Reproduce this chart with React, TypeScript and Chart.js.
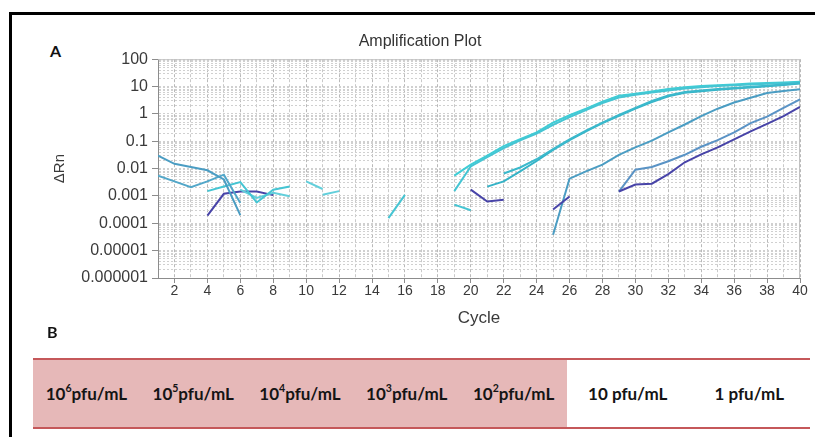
import React, { useEffect, useRef } from "react";
import { Chart, registerables } from "chart.js";

Chart.register(...registerables);

// Cycle range of the run
const firstCycle = 1;
const lastCycle = 40;

// ΔRn axis decades and their printed labels
const yDecades = [100, 10, 1, 0.1, 0.01, 0.001, 0.0001, 0.00001, 0.000001];
const yDecadeLabels = ["100", "10", "1", "0.1", "0.01", "0.001", "0.0001", "0.00001", "0.000001"];

// Amplification curves: first cycle, then ΔRn at each following cycle
const curve19aStart = 19;
const curve19a = [0.0055, 0.014, 0.03, 0.066, 0.12, 0.21, 0.48, 0.89, 1.55, 2.8, 4.6, 5.5, 6.6, 8.1, 9.5, 10.5, 11.2, 12.0, 12.9, 13.5, 14.1, 15.1];

const curve19bStart = 19;
const curve19b = [0.0015, 0.012, 0.026, 0.056, 0.107, 0.19, 0.4, 0.76, 1.38, 2.5, 4.0, 5.0, 6.0, 7.2, 8.5, 9.5, 10.5, 11.2, 12.0, 12.6, 13.2, 14.1];

const curve21Start = 21;
const curve21 = [0.0022, 0.0034, 0.0079, 0.019, 0.048, 0.11, 0.23, 0.46, 0.85, 1.55, 2.7, 4.4, 5.9, 6.8, 7.7, 8.5, 9.3, 10.2, 11.4, 13.0];

const curve22Start = 22;
const curve22 = [0.0066, 0.011, 0.022, 0.052, 0.117, 0.245, 0.48, 0.91, 1.66, 2.95, 4.7, 6.3, 7.2, 8.1, 8.9, 9.8, 10.7, 12.0, 13.5];

const curve25Start = 25;
const curve25 = [0.000038, 0.0043, 0.0079, 0.014, 0.032, 0.06, 0.105, 0.21, 0.41, 0.83, 1.55, 2.6, 3.9, 5.8, 6.9, 7.9];

const curve29aStart = 29;
const curve29a = [0.00145, 0.0091, 0.0115, 0.0186, 0.032, 0.063, 0.11, 0.21, 0.46, 0.79, 1.66, 3.4];

const curve29bStart = 29;
const curve29b = [0.00145, 0.0026, 0.0028, 0.0063, 0.017, 0.033, 0.06, 0.117, 0.23, 0.43, 0.83, 1.8];

// Baseline noise pieces (below threshold)
const noiseIndigo4Start = 4;
const noiseIndigo4 = [0.00019, 0.0012, 0.00145, 0.00145, 0.00107];
const noiseIndigo20Start = 20;
const noiseIndigo20 = [0.0017, 0.00063, 0.00072];
const noiseIndigo25Start = 25;
const noiseIndigo25 = [0.00032, 0.00095];
const noiseSteel1aStart = 1;
const noiseSteel1a = [0.03, 0.015, 0.0115, 0.0087, 0.004, 0.0002];
const noiseSteel1bStart = 1;
const noiseSteel1b = [0.0055, 0.0034, 0.0021, 0.0034, 0.006, 0.00055];
const noiseCyan4Start = 4;
const noiseCyan4 = [0.0015, 0.0022, 0.0032, 0.00058, 0.0017, 0.0022];
const noiseCyan6Start = 6;
const noiseCyan6 = [0.0017, 0.00085, 0.0013, 0.00098];
const noiseCyan10Start = 10;
const noiseCyan10 = [0.0034, 0.0018];
const noiseCyan11Start = 11;
const noiseCyan11 = [0.0011, 0.0015];
const noiseCyan15Start = 15;
const noiseCyan15 = [0.000155, 0.0011];
const noiseCyan19Start = 19;
const noiseCyan19 = [0.00048, 0.0003];

// Texts
const plotTitle = "Amplification Plot";
const xTitle = "Cycle";
const yTitle = "ΔRn";
const panelA = "A";
const panelB = "B";

// Dilution series listed under the plot
const dilutionBases = ["10", "10", "10", "10", "10", "10", "1"];
const dilutionExponents = ["6", "5", "4", "3", "2", "", ""];
const dilutionGaps = ["", " ", " ", " ", "", " ", " "];
const dilutionUnit = "pfu/mL";
const dilutionDetected = [true, true, true, true, true, false, false];

const CYAN_BRIGHT = "#3fcdd6";
const CYAN = "#45c5d3";
const TEAL = "#35b3c7";
const TEAL2 = "#3bb9cc";
const STEEL = "#4b9dc3";
const STEEL2 = "#5a93c5";
const INDIGO = "#4844a8";
const STEEL_LIGHT = "#52a7c9";
const CYAN_LIGHT = "#62cfdb";

const traces = [
  { start: noiseSteel1aStart, values: noiseSteel1a, color: STEEL },
  { start: noiseSteel1bStart, values: noiseSteel1b, color: STEEL_LIGHT },
  { start: noiseCyan4Start, values: noiseCyan4, color: CYAN },
  { start: noiseCyan6Start, values: noiseCyan6, color: CYAN_LIGHT },
  { start: noiseCyan10Start, values: noiseCyan10, color: CYAN_LIGHT },
  { start: noiseCyan11Start, values: noiseCyan11, color: CYAN_LIGHT },
  { start: noiseCyan15Start, values: noiseCyan15, color: CYAN },
  { start: noiseCyan19Start, values: noiseCyan19, color: CYAN },
  { start: noiseIndigo4Start, values: noiseIndigo4, color: INDIGO },
  { start: noiseIndigo20Start, values: noiseIndigo20, color: INDIGO },
  { start: noiseIndigo25Start, values: noiseIndigo25, color: INDIGO },
  { start: curve29bStart, values: curve29b, color: INDIGO },
  { start: curve29aStart, values: curve29a, color: STEEL2 },
  { start: curve25Start, values: curve25, color: STEEL },
  { start: curve22Start, values: curve22, color: TEAL2 },
  { start: curve21Start, values: curve21, color: TEAL },
  { start: curve19bStart, values: curve19b, color: CYAN },
  { start: curve19aStart, values: curve19a, color: CYAN_BRIGHT },
];

const FONT = "'Liberation Sans', Arial, Helvetica, sans-serif";
const TEXT = "#3a3a3a";

const isDecade = (v: number) => Math.abs(Math.log10(v) - Math.round(Math.log10(v))) < 1e-6;

// Grid ticks on the log axis: 1..9 within every decade
const logGridTicks = (): number[] => {
  const out: number[] = [];
  for (let e = -6; e < 2; e++) {
    for (let m = 1; m < 10; m++) out.push(parseFloat((m * Math.pow(10, e)).toPrecision(3)));
  }
  out.push(100);
  return out;
};

const plotFrame = {
  id: "plotFrame",
  beforeDatasetsDraw(chart: any) {
    const { ctx, chartArea: a } = chart;
    ctx.save();
    ctx.strokeStyle = "#c2c2c2";
    ctx.lineWidth = 1;
    ctx.beginPath();
    ctx.moveTo(a.left, a.top + 0.5);
    ctx.lineTo(a.right - 0.5, a.top + 0.5);
    ctx.lineTo(a.right - 0.5, a.bottom);
    ctx.stroke();
    ctx.restore();
  },
};

function AmplificationChart() {
  const ref = useRef<HTMLCanvasElement | null>(null);

  useEffect(() => {
    if (!ref.current) return;
    const chart = new Chart(ref.current, {
      type: "line",
      data: {
        datasets: traces.map((t) => ({
          data: t.values.map((y, i) => ({ x: t.start + i, y })),
          borderColor: t.color,
          borderWidth: 2,
          pointRadius: 0,
          fill: false,
          tension: 0,
        })),
      },
      options: {
        responsive: false,
        animation: false,
        events: [],
        layout: { padding: { left: 20, right: 15, top: 0, bottom: 0 } },
        plugins: {
          legend: { display: false },
          tooltip: { enabled: false },
          title: {
            display: true,
            text: plotTitle,
            color: "#333",
            font: { family: FONT, size: 16, weight: "normal" },
            padding: { top: 0, bottom: 8 },
          },
        },
        scales: {
          x: {
            type: "linear",
            min: firstCycle,
            max: lastCycle,
            ticks: {
              stepSize: 1,
              autoSkip: false,
              maxRotation: 0,
              padding: 0,
              color: TEXT,
              font: { family: FONT, size: 14 },
              callback: (v: any) => (Number(v) % 2 === 0 ? String(v) : ""),
            },
            grid: {
              color: (c: any) => (c.tick && c.tick.value % 2 === 0 ? "#b9b9b9" : "#c9c9c9"),
              lineWidth: 1,
              tickLength: 5,
              tickColor: (c: any) => (c.tick && c.tick.value % 2 === 0 ? "#8c8c8c" : "rgba(0,0,0,0)"),
            },
            border: { color: "#8c8c8c", dash: [3, 2] },
            title: {
              display: true,
              text: xTitle,
              color: TEXT,
              font: { family: FONT, size: 17 },
              padding: { top: 0, bottom: 0 },
            },
            afterFit: (s: any) => {
              s.height = 51;
              s.paddingLeft = 0;
              s.paddingRight = 0;
            },
          },
          y: {
            type: "logarithmic",
            min: yDecades[yDecades.length - 1],
            max: yDecades[0],
            afterBuildTicks: (s: any) => {
              s.ticks = logGridTicks().map((v) => ({ value: v, major: isDecade(v) }));
            },
            ticks: {
              autoSkip: false,
              padding: 4,
              color: TEXT,
              font: { family: FONT, size: 16 },
              callback: (v: any) => {
                const idx = yDecades.findIndex((d) => Math.abs(d - Number(v)) < d * 1e-6);
                return idx >= 0 ? yDecadeLabels[idx] : "";
              },
            },
            grid: {
              color: "#d0d0d0",
              lineWidth: 1,
              tickLength: 6,
              tickColor: (c: any) => (c.tick && isDecade(c.tick.value) ? "#8c8c8c" : "rgba(0,0,0,0)"),
            },
            border: { color: "#8c8c8c", dash: [2, 2] },
            title: {
              display: true,
              text: yTitle,
              color: TEXT,
              font: { family: FONT, size: 15 },
              padding: { top: 11, bottom: 0 },
            },
            afterFit: (s: any) => {
              s.width = 118;
              s.paddingTop = 0;
              s.paddingBottom = 0;
            },
          },
        },
      },
      plugins: [plotFrame],
    } as any);
    return () => chart.destroy();
  }, []);

  return (
    <canvas
      ref={ref}
      width={795}
      height={297}
      style={{ position: "absolute", left: 20, top: 32, width: 795, height: 297 }}
    />
  );
}

const panelLetter: React.CSSProperties = {
  position: "absolute",
  font: "700 16px Lato, 'Liberation Sans', sans-serif",
  lineHeight: "16px",
  color: "#111",
};

export default function App() {
  return (
    <div
      style={{
        position: "fixed",
        left: 0,
        top: 0,
        width: 815,
        height: 437,
        overflow: "hidden",
        background: "#fff",
      }}
    >
      {/* outer frame: top and left rules */}
      <div style={{ position: "absolute", left: 9, top: 12, width: 806, height: 3, background: "#000" }} />
      <div style={{ position: "absolute", left: 9, top: 12, width: 3, height: 425, background: "#000" }} />

      <div style={{ ...panelLetter, left: 50, top: 43 }}>{panelA}</div>
      <AmplificationChart />
      <div style={{ ...panelLetter, left: 47, top: 324 }}>{panelB}</div>

      <div
        style={{
          position: "absolute",
          left: 33,
          top: 358,
          width: 777,
          height: 67,
          borderTop: "2px solid #c5585a",
          borderBottom: "2px solid #c5585a",
          display: "flex",
        }}
      >
        {dilutionBases.map((base, i) => (
          <div
            key={i}
            style={{
              width: dilutionDetected[i] ? 106.8 : 121.5,
              flexShrink: 0,
              background: dilutionDetected[i] ? "#e6b8b8" : "transparent",
              display: "flex",
              alignItems: "center",
              justifyContent: "center",
              font: "700 17px Lato, 'Liberation Sans', sans-serif",
              color: "#141414",
              whiteSpace: "pre",
            }}
          >
            {base}
            {dilutionExponents[i] ? (
              <span style={{ fontSize: "0.62em", position: "relative", top: "-0.5em" }}>
                {dilutionExponents[i]}
              </span>
            ) : null}
            {dilutionGaps[i]}
            {dilutionUnit}
          </div>
        ))}
      </div>
    </div>
  );
}
